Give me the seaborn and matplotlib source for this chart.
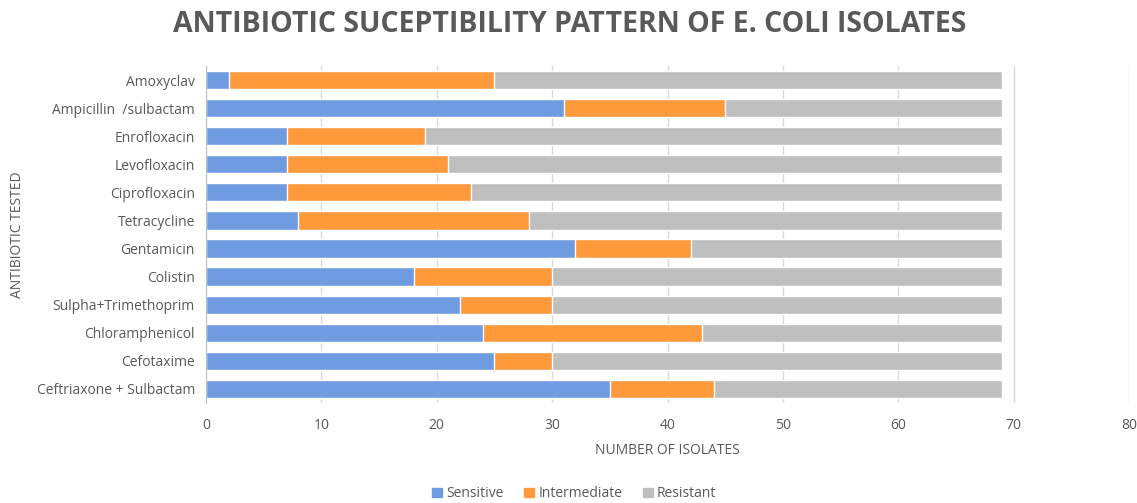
import pandas as pd
import seaborn as sns
import matplotlib.pyplot as plt
import matplotlib.patches as mpatches

# data
antibiotics = ['Amoxyclav', 'Ampicillin  /sulbactam', 'Enrofloxacin', 'Levofloxacin',
               'Ciprofloxacin', 'Tetracycline', 'Gentamicin', 'Colistin',
               'Sulpha+Trimethoprim', 'Chloramphenicol', 'Cefotaxime',
               'Ceftriaxone + Sulbactam']
sensitive = [2, 31, 7, 7, 7, 8, 32, 18, 22, 24, 25, 35]
intermediate = [23, 14, 12, 14, 16, 20, 10, 12, 8, 19, 5, 9]
resistant = [44, 24, 50, 48, 46, 41, 27, 39, 39, 26, 39, 25]

df = pd.DataFrame({'Antibiotic': antibiotics, 'Sensitive': sensitive,
                   'Intermediate': intermediate, 'Resistant': resistant})
df['S+I'] = df['Sensitive'] + df['Intermediate']
df['Total'] = df['S+I'] + df['Resistant']

colors = {'Sensitive': '#6F9CE0', 'Intermediate': '#FF9A3C', 'Resistant': '#BFBFBF'}
text_col = '#595959'

sns.set_style('white')
plt.rcParams['font.family'] = ['Open Sans', 'DejaVu Sans']

fig = plt.figure(figsize=(11.37, 5.03), dpi=100)
ax = fig.add_axes([0.1812, 0.1988, 0.8118, 0.67])

# stacked bars: draw cumulative totals back to front
for col, name in [('Total', 'Resistant'), ('S+I', 'Intermediate'), ('Sensitive', 'Sensitive')]:
    sns.barplot(data=df, y='Antibiotic', x=col, order=antibiotics, orient='h',
                color=colors[name], width=0.65, saturation=1, ax=ax, zorder=2)

ax.set_xlim(0, 80)
ax.set_xticks(range(0, 81, 10))
ax.grid(axis='x', color='#D9D9D9', linewidth=1, zorder=0)
ax.set_axisbelow(True)
for s in ['top', 'right', 'bottom']:
    ax.spines[s].set_visible(False)
ax.spines['left'].set_color('#BFBFBF')
ax.tick_params(axis='both', length=0, labelsize=10, labelcolor=text_col, pad=8)
ax.tick_params(axis='x', pad=11)

ax.set_xlabel('NUMBER OF ISOLATES', fontsize=10, color=text_col, labelpad=7)
ax.set_ylabel('ANTIBIOTIC TESTED', fontsize=10, color=text_col, labelpad=8)

fig.suptitle('ANTIBIOTIC SUCEPTIBILITY PATTERN OF E. COLI ISOLATES',
             fontsize=20.5, fontweight='bold', color=text_col, y=0.98, x=0.501)

handles = [mpatches.Patch(color=colors[k], label=k) for k in ['Sensitive', 'Intermediate', 'Resistant']]
leg = fig.legend(handles=handles, loc='center', bbox_to_anchor=(0.505, 0.018), ncol=3,
                 frameon=False, fontsize=10, handlelength=0.7, handleheight=0.7,
                 handletextpad=0.3, columnspacing=1.5)
for t in leg.get_texts():
    t.set_color(text_col)

plt.savefig('out.png', dpi=100)
